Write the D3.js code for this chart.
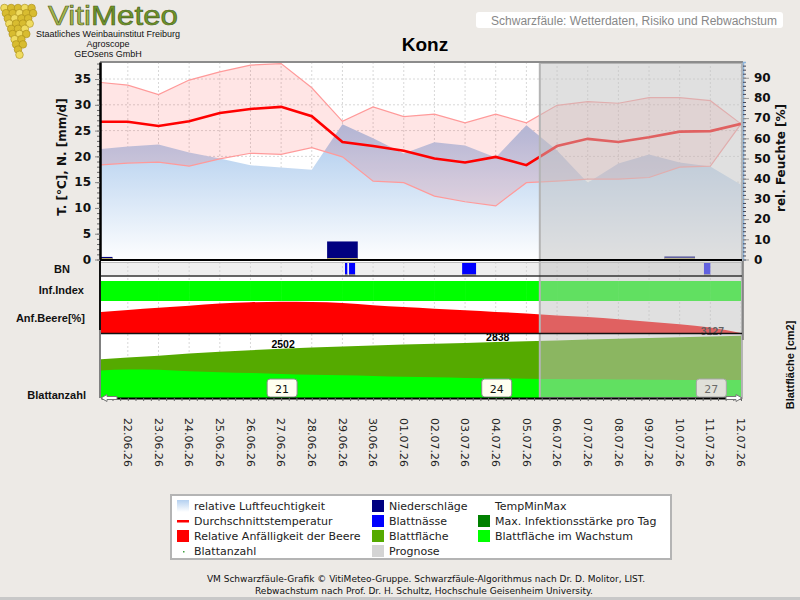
<!DOCTYPE html>
<html>
<head>
<meta charset="utf-8">
<script src="https://cdn.jsdelivr.net/npm/d3@7"></script>
<style>
  body { margin: 0; background: #edeae6; }
  svg { display: block; }
</style>
</head>
<body>
<div id="chart"></div>
<script>
// daily values 21.06.26 .. 12.07.26
var dates = ["21.06.26","22.06.26","23.06.26","24.06.26","25.06.26","26.06.26","27.06.26","28.06.26","29.06.26","30.06.26",
  "01.07.26","02.07.26","03.07.26","04.07.26","05.07.26","06.07.26","07.07.26","08.07.26","09.07.26","10.07.26","11.07.26","12.07.26"];
var tickLabels = dates.slice(1);
var tempAvg = [26.7,26.7,25.9,26.8,28.4,29.2,29.6,27.8,22.8,22.0,21.1,19.6,18.8,19.9,18.3,22.0,23.4,22.8,23.7,24.8,24.9,26.3];
var tempMax = [34.4,33.8,32.0,34.8,36.4,37.7,38.0,33.3,26.8,29.6,27.7,28.2,26.5,28.2,26.5,29.9,30.6,30.3,31.4,31.4,30.8,26.3];
var tempMin = [18.3,18.7,18.9,18.1,19.5,20.6,20.4,21.7,19.9,15.2,14.9,12.3,11.2,10.4,14.9,15.2,15.6,15.6,15.9,17.9,18.1,26.3];
var humidity = [54.5,56,57,53,50,46.7,45.5,44.5,67,60,52.5,58,56.5,50.5,66.5,54,38,47.5,52,48,46,37];
var precip = [0.5,0,0,0,0,0,0,0,3.5,0,0,0,0,0,0,0,0,0,0,0.6,0,0];
var infIndex = [0,0,0,0,0,0,0,0,0,0,0,0,0,0,0,0,0,0,0,0,0,0];
var berrySusc = [65,72,79,85,92,96,98,97,94,87,81,76,71,66,61,55,50,43,35,27,17,0];
var leafArea = [1950,2050,2150,2260,2350,2430,2502,2560,2610,2660,2710,2755,2798,2838,2880,2925,2967,3007,3048,3088,3127,3165];
var leafAreaGrowing = [1380,1450,1430,1360,1310,1270,1220,1180,1150,1120,1080,1050,1020,1000,980,965,950,940,930,920,915,910];
// leaf wetness periods: date, from hour, to hour
var wetness = [["29.06.26",2,3.8],["29.06.26",5.2,9.9],["03.07.26",-2.3,8.6],["11.07.26",-5,0]];
var leafCountDates = ["27.06.26","04.07.26","11.07.26"];
var leafCount = [21,24,27];
var forecastStart = "05.07.26";
var forecastHour = 10.5;

var legendItems = [
  ["relative Luftfeuchtigkeit","grad"],["Durchschnittstemperatur","line"],["Relative Anfälligkeit der Beere","#ff0000"],["Blattanzahl","dot"],
  ["Niederschläge","#000080"],["Blattnässe","#0000ff"],["Blattfläche","#55aa00"],["Prognose","#d4d4d4"],
  ["TempMinMax","none"],["Max. Infektionsstärke pro Tag","#008000"],["Blattfläche im Wachstum","#00ff00"]
];

var parse = d3.timeParse("%d.%m.%y");
var W = 800, H = 600;
var svg = d3.select("#chart").append("svg").attr("width", W).attr("height", H)
  .style("font-family", "'DejaVu Sans', sans-serif");
var defs = svg.append("defs");

svg.append("rect").attr("width", W).attr("height", H).attr("fill", "#edeae6");

var L = 101, R = 741, plotTop = 62, base = 259.5;
var x = d3.scaleTime()
  .domain([d3.timeHour.offset(parse("21.06.26"), 3), parse("12.07.26")])
  .range([L, R]);
var yT = d3.scaleLinear().domain([0, 38.3]).range([base, plotTop]);
var yH = d3.scaleLinear().domain([0, 97.8]).range([base, plotTop]);
var yS = d3.scaleLinear().domain([0, 100]).range([333, 301]);
var yLA = d3.scaleLinear().domain([0, 3300]).range([398, 333]);

var rows = dates.map(function(d, i) {
  return { date: parse(d), tavg: tempAvg[i], tmax: tempMax[i], tmin: tempMin[i], hum: humidity[i],
    prec: precip[i], inf: infIndex[i], susc: berrySusc[i], la: leafArea[i], lag: leafAreaGrowing[i] };
});

defs.append("clipPath").attr("id", "clip").append("rect")
  .attr("x", L).attr("y", plotTop).attr("width", R - L).attr("height", 400 - plotTop);

var grad = defs.append("linearGradient").attr("id", "humGrad")
  .attr("gradientUnits", "userSpaceOnUse").attr("x1", 0).attr("x2", 0).attr("y1", 120).attr("y2", 262);
grad.append("stop").attr("offset", 0).attr("stop-color", "#a8c8ec");
grad.append("stop").attr("offset", 1).attr("stop-color", "#ffffff");
var lgGrad = defs.append("linearGradient").attr("id", "lgGrad").attr("x1", 0).attr("x2", 0).attr("y1", 0).attr("y2", 1);
lgGrad.append("stop").attr("offset", 0).attr("stop-color", "#b4d0f0");
lgGrad.append("stop").attr("offset", 1).attr("stop-color", "#ffffff");

// ---- logo
var logo = svg.append("g");
for (var r = 0; r < 10; r++) {
  var n = Math.max(1, 5 - Math.floor(r / 2));
  for (var c = 0; c < n; c++) {
    logo.append("circle")
      .attr("cx", 18 - (n - 1) * 3.4 + c * 6.8 + (r % 2) * 1.5)
      .attr("cy", 8 + r * 5.2)
      .attr("r", 3.8)
      .attr("fill", (r + c) % 3 == 0 ? "#f0dc60" : "#d8bc30")
      .attr("stroke", "#a88c18").attr("stroke-width", 0.6);
  }
}
var vt = logo.append("text").attr("x", 48).attr("y", 24.5)
  .attr("textLength", 130).attr("lengthAdjust", "spacingAndGlyphs")
  .style("font-family", "'Liberation Sans', Arial, sans-serif").style("font-size", "27px")
  .style("stroke", "#4a5a20").style("stroke-width", 0.6);
vt.append("tspan").attr("fill", "#a6b84c").text("Viti");
vt.append("tspan").attr("fill", "#6d9628").text("Meteo");
[["Staatliches Weinbauinstitut Freiburg", 37], ["Agroscope", 47], ["GEOsens GmbH", 56.5]].forEach(function(t) {
  logo.append("text").attr("x", 108).attr("y", t[1]).attr("text-anchor", "middle")
    .style("font-family", "'Liberation Sans', Arial, sans-serif").style("font-size", "9px").attr("fill", "#111").text(t[0]);
});

// ---- title
svg.append("rect").attr("x", 476).attr("y", 12).attr("width", 307).attr("height", 16).attr("rx", 3).attr("fill", "#fff");
svg.append("text").attr("x", 777).attr("y", 24.5).attr("text-anchor", "end")
  .style("font-family", "'Liberation Sans', Arial, sans-serif").style("font-size", "12px").attr("fill", "#888")
  .text("Schwarzfäule: Wetterdaten, Risiko und Rebwachstum");
svg.append("text").attr("x", 425).attr("y", 51).attr("text-anchor", "middle")
  .style("font-family", "'Liberation Sans', Arial, sans-serif").style("font-size", "19px").style("font-weight", "bold")
  .attr("fill", "#000").text("Konz");

// ---- panel backgrounds
svg.append("rect").attr("x", L).attr("y", plotTop).attr("width", R - L + 1).attr("height", 398 - plotTop).attr("fill", "#fff");
svg.append("rect").attr("x", L).attr("y", 263).attr("width", R - L + 1).attr("height", 12.5).attr("fill", "#efefef");

// ---- grid
var grid = svg.append("g").attr("stroke", "#d8d8d8").attr("stroke-dasharray", "2,2").attr("stroke-width", 1);
grid.selectAll("line.h").data(d3.range(5, 38, 5)).enter().append("line")
  .attr("x1", L).attr("x2", R).attr("y1", function(d) { return yT(d); }).attr("y2", function(d) { return yT(d); });
grid.selectAll("line.v").data(tickLabels).enter().append("line")
  .attr("x1", function(d) { return x(parse(d)); }).attr("x2", function(d) { return x(parse(d)); })
  .attr("y1", plotTop).attr("y2", 398);

var plot = svg.append("g").attr("clip-path", "url(#clip)");

// humidity
plot.append("path").datum(rows).attr("fill", "url(#humGrad)")
  .attr("d", d3.area().x(function(d) { return x(d.date); }).y0(base).y1(function(d) { return yH(d.hum); }));

// temperature band
plot.append("path").datum(rows).attr("fill", "#ff0000").attr("fill-opacity", 0.1)
  .attr("d", d3.area().x(function(d) { return x(d.date); }).y0(function(d) { return yT(d.tmin); }).y1(function(d) { return yT(d.tmax); }));
["tmax", "tmin"].forEach(function(k) {
  plot.append("path").datum(rows).attr("fill", "none").attr("stroke", "#ff9a9a").attr("stroke-width", 1.2)
    .attr("d", d3.line().x(function(d) { return x(d.date); }).y(function(d) { return yT(d[k]); }));
});
plot.append("path").datum(rows).attr("fill", "none").attr("stroke", "#ff0000").attr("stroke-width", 2.6)
  .attr("d", d3.line().x(function(d) { return x(d.date); }).y(function(d) { return yT(d.tavg); }));

// precipitation
var dayW = x(parse("23.06.26")) - x(parse("22.06.26"));
var rain = rows.filter(function(d) { return d.prec > 0; });
plot.selectAll("rect.prec").data(rain).enter().append("rect")
  .attr("x", function(d) { return x(d.date) - dayW / 2; }).attr("width", dayW)
  .attr("y", function(d) { return yT(d.prec); }).attr("height", function(d) { return base - yT(d.prec); })
  .attr("fill", "#000080");
plot.selectAll("line.prec").data(rain).enter().append("line")
  .attr("x1", function(d) { return x(d.date) - dayW / 2; }).attr("x2", function(d) { return x(d.date) + dayW / 2; })
  .attr("y1", base - 0.5).attr("y2", base - 0.5).attr("stroke", "#f0e060").attr("stroke-width", 1.5);

// leaf wetness
function hourPos(d, h) { return x(d3.timeMinute.offset(parse(d), h * 60)); }
plot.selectAll("rect.bn").data(wetness).enter().append("rect")
  .attr("x", function(d) { return hourPos(d[0], d[1]); })
  .attr("width", function(d) { return hourPos(d[0], d[2]) - hourPos(d[0], d[1]); })
  .attr("y", 263).attr("height", 12.5).attr("fill", "#0000ff");
plot.selectAll("line.bn").data(wetness).enter().append("line")
  .attr("x1", function(d) { return hourPos(d[0], d[1]); })
  .attr("x2", function(d) { return hourPos(d[0], d[2]); })
  .attr("y1", 275).attr("y2", 275).attr("stroke", "#e8d860").attr("stroke-width", 1.2);

// infection index
var infColor = d3.scaleThreshold().domain([1, 2, 3]).range(["#00ff00", "#ffff00", "#ff8000", "#ff0000"]);
plot.selectAll("rect.inf").data(rows).enter().append("rect")
  .attr("x", function(d) { return x(d.date); }).attr("width", dayW + 0.5)
  .attr("y", 281).attr("height", 20).attr("fill", function(d) { return infColor(d.inf); });

// berry susceptibility
plot.append("path").datum(rows).attr("fill", "#ff0000")
  .attr("d", d3.area().curve(d3.curveMonotoneX).x(function(d) { return x(d.date); }).y0(333).y1(function(d) { return yS(d.susc); }));

// leaf area
plot.append("path").datum(rows).attr("fill", "#55aa00")
  .attr("d", d3.area().x(function(d) { return x(d.date); }).y0(398).y1(function(d) { return yLA(d.la); }));
plot.append("path").datum(rows).attr("fill", "#00ff00")
  .attr("d", d3.area().curve(d3.curveMonotoneX).x(function(d) { return x(d.date); }).y0(398).y1(function(d) { return yLA(d.lag); }));

var fmt = d3.timeFormat("%d.%m.%y");
var labelled = rows.filter(function(d) { return leafCountDates.indexOf(fmt(d.date)) >= 0; });
plot.selectAll("text.la").data(labelled).enter().append("text")
  .attr("x", function(d) { return x(d.date) + 2; }).attr("y", function(d) { return yLA(d.la) - 1; })
  .attr("text-anchor", "middle").style("font-family", "'Liberation Sans', Arial, sans-serif")
  .style("font-size", "10.5px").style("font-weight", "bold").attr("fill", "#000")
  .text(function(d) { return d.la; });

var boxes = plot.selectAll("g.lc").data(leafCountDates).enter().append("g")
  .attr("transform", function(d) { return "translate(" + x(parse(d)) + ",0)"; });
boxes.append("rect").attr("x", -14).attr("y", 379).attr("width", 30).attr("height", 18).attr("rx", 3)
  .attr("fill", "#fffff0").attr("stroke", "#8a8a8a");
boxes.append("text").attr("x", 1).attr("y", 392.5).attr("text-anchor", "middle").style("font-size", "11px").attr("fill", "#111")
  .text(function(d, i) { return leafCount[i]; });

// forecast overlay
var fx = hourPos(forecastStart, forecastHour);
svg.append("rect").attr("x", fx).attr("y", 63).attr("width", R + 1 - fx).attr("height", 335)
  .attr("fill", "rgb(193,193,193)").attr("fill-opacity", 0.5).attr("stroke", "#b4b4b4").attr("stroke-width", 2);

// ---- frame lines
svg.append("line").attr("x1", L - 1).attr("x2", R + 2).attr("y1", 62).attr("y2", 62).attr("stroke", "#8c8c8c").attr("stroke-width", 2);
svg.append("line").attr("x1", L - 1).attr("x2", R + 1).attr("y1", 260).attr("y2", 260).attr("stroke", "#000").attr("stroke-width", 2);
svg.append("line").attr("x1", L).attr("x2", R + 1).attr("y1", 262.5).attr("y2", 262.5).attr("stroke", "#bbb").attr("stroke-width", 1);
svg.append("line").attr("x1", L).attr("x2", R + 1).attr("y1", 276).attr("y2", 276).attr("stroke", "#333").attr("stroke-width", 1.5);
svg.append("line").attr("x1", L).attr("x2", R + 1).attr("y1", 333.5).attr("y2", 333.5).attr("stroke", "#111").attr("stroke-width", 1.5);
svg.append("line").attr("x1", 100).attr("x2", 100).attr("y1", 261).attr("y2", 330).attr("stroke", "#111").attr("stroke-width", 2);
svg.append("line").attr("x1", 100).attr("x2", 100).attr("y1", 330).attr("y2", 398).attr("stroke", "#808080").attr("stroke-width", 2);
svg.append("line").attr("x1", 743).attr("x2", 743).attr("y1", 261).attr("y2", 340).attr("stroke", "#777").attr("stroke-width", 1.5);

// left axis
var minorL = d3.axisLeft(yT).tickValues(d3.range(0, 39, 1)).tickSize(3).tickFormat("");
var gmL = svg.append("g").attr("transform", "translate(100,0)").call(minorL);
gmL.select(".domain").remove();
gmL.selectAll("line").attr("stroke", "#666");
var axL = svg.append("g").attr("transform", "translate(100,0)")
  .call(d3.axisLeft(yT).tickValues(d3.range(0, 36, 5)).tickSize(5).tickPadding(4).tickSizeOuter(0));
axL.select(".domain").attr("stroke", "#000").attr("stroke-width", 2.5);
axL.selectAll("line").attr("stroke", "#888");
axL.selectAll("text").style("font-size", "12px").style("font-weight", "bold").style("font-family", "'DejaVu Sans', sans-serif").attr("fill", "#111");

// right axis
var minorR = d3.axisRight(yH).tickValues(d3.range(0, 98, 2)).tickSize(3).tickFormat("");
var gmR = svg.append("g").attr("transform", "translate(743,0)").call(minorR);
gmR.select(".domain").attr("stroke", "#8cb4dc").attr("stroke-width", 1.5);
gmR.selectAll("line").attr("stroke", "#445");
var axR = svg.append("g").attr("transform", "translate(743,0)")
  .call(d3.axisRight(yH).tickValues(d3.range(0, 91, 10)).tickSize(6).tickPadding(5).tickSizeOuter(0));
axR.select(".domain").remove();
axR.selectAll("line").attr("stroke", "#999");
axR.selectAll("text").style("font-size", "12px").style("font-weight", "bold").style("font-family", "'DejaVu Sans', sans-serif").attr("fill", "#111");

// x axis
var axX = svg.append("g").attr("transform", "translate(0,398)")
  .call(d3.axisBottom(x).ticks(d3.timeHour.every(6)).tickSize(3).tickFormat("").tickSizeOuter(0));
axX.select(".domain").attr("stroke", "#000").attr("stroke-width", 2);
axX.selectAll("line").attr("stroke", "#666");

// arrows
svg.append("path").attr("d", "M101,398 L107,394.5 L107,396.5 L117,396.5 L117,399.5 L107,399.5 L107,401.5 Z")
  .attr("fill", "#fff").attr("stroke", "#777");
svg.append("path").attr("d", "M742,398 L736,394.5 L736,396.5 L726,396.5 L726,399.5 L736,399.5 L736,401.5 Z")
  .attr("fill", "#fff").attr("stroke", "#777");

// date labels
svg.selectAll("text.date").data(tickLabels).enter().append("text")
  .attr("transform", function(d) { return "translate(" + x(parse(d)) + ",418) rotate(90)"; })
  .attr("dy", "0.35em").style("font-size", "11px").attr("fill", "#222").text(function(d) { return d; });

// axis titles and row labels
svg.append("text").attr("transform", "translate(66,157) rotate(-90)").attr("text-anchor", "middle")
  .style("font-size", "12px").style("font-weight", "bold").attr("fill", "#111").text("T. [°C], N. [mm/d]");
svg.append("text").attr("transform", "translate(785,158) rotate(-90)").attr("text-anchor", "middle")
  .style("font-size", "12px").style("font-weight", "bold").attr("fill", "#111").text("rel. Feuchte [%]");
svg.append("text").attr("transform", "translate(794,365) rotate(-90)").attr("text-anchor", "middle")
  .style("font-family", "'Liberation Sans', Arial, sans-serif").style("font-size", "11px").style("font-weight", "bold")
  .attr("fill", "#111").text("Blattfläche [cm2]");
[["BN", 62, 273, "middle"], ["Inf.Index", 84, 294, "end"], ["Anf.Beere[%]", 85, 322, "end"], ["Blattanzahl", 86, 399, "end"]].forEach(function(t) {
  svg.append("text").attr("x", t[1]).attr("y", t[2]).attr("text-anchor", t[3])
    .style("font-family", "'Liberation Sans', Arial, sans-serif").style("font-size", "11px").style("font-weight", "bold")
    .attr("fill", "#111").text(t[0]);
});

// ---- legend
svg.append("rect").attr("x", 171).attr("y", 495).attr("width", 500).attr("height", 64)
  .attr("fill", "#fff").attr("stroke", "#b4b4b4").attr("stroke-width", 2);
var colX = [177, 372, 478];
var lg = svg.selectAll("g.lg").data(legendItems).enter().append("g")
  .attr("transform", function(d, i) {
    var col = i < 4 ? 0 : (i < 8 ? 1 : 2), row = i < 4 ? i : (i < 8 ? i - 4 : i - 8);
    return "translate(" + colX[col] + "," + (506 + row * 15) + ")";
  });
lg.each(function(d) {
  var g = d3.select(this);
  if (d[1] == "grad") g.append("rect").attr("x", 0).attr("y", -6).attr("width", 12).attr("height", 12).attr("fill", "url(#lgGrad)");
  else if (d[1] == "line") g.append("rect").attr("x", 0).attr("y", -1).attr("width", 12).attr("height", 2.5).attr("fill", "#ff0000");
  else if (d[1] == "dot") g.append("rect").attr("x", 6).attr("y", 0).attr("width", 1.5).attr("height", 1.5).attr("fill", "#40a040");
  else if (d[1] != "none") g.append("rect").attr("x", 0).attr("y", -6).attr("width", 12).attr("height", 12).attr("fill", d[1]);
});
lg.append("text").attr("x", 17).attr("dy", "0.35em")
  .style("font-size", "11px").attr("fill", "#222").text(function(d) { return d[0]; });

// ---- footer
svg.append("text").attr("x", 426).attr("y", 582).attr("text-anchor", "middle").style("font-size", "9px").attr("fill", "#111")
  .text("VM Schwarzfäule-Grafik © VitiMeteo-Gruppe. Schwarzfäule-Algorithmus nach Dr. D. Molitor, LIST.");
svg.append("text").attr("x", 424).attr("y", 594).attr("text-anchor", "middle").style("font-size", "9px").attr("fill", "#111")
  .text("Rebwachstum nach Prof. Dr. H. Schultz, Hochschule Geisenheim University.");
svg.append("rect").attr("x", 0).attr("y", 597).attr("width", W).attr("height", 3).attr("fill", "#c8c8c8");
</script>
</body>
</html>
